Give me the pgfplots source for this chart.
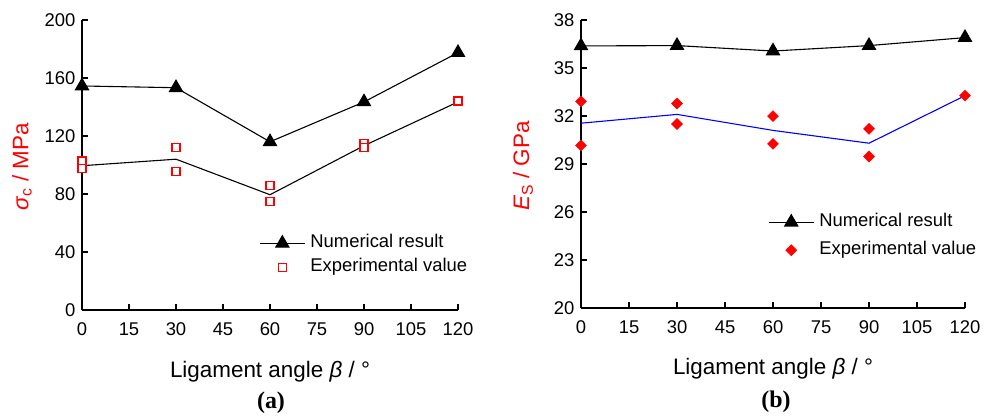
\documentclass[border=0pt]{standalone}
\usepackage{fontspec}
\setmainfont{Liberation Sans}
\newfontfamily\capfont{Liberation Serif}
\usepackage{pgfplots}
\pgfplotsset{compat=1.18}

\definecolor{expred}{RGB}{255,0,0}
\definecolor{fitblue}{RGB}{0,0,255}

\pgfplotsset{
  longlegend/.style={legend image code/.code={\draw[mark repeat=2,mark phase=2,##1] plot coordinates {(0bp,0bp) (22.5bp,0bp) (45bp,0bp)};}},
  panel/.style={
    scale only axis,
    axis lines=left,
    axis line style={-, line width=1.1bp},
    tick align=inside,
    major tick length=6bp,
    tick style={line width=1.1bp, black},
    xmin=0, xmax=120,
    xtick={0,15,...,120},
    clip=false,
    /pgf/number format/assume math mode=true,
    tick label style={font=\fontsize{18.5}{20}\selectfont},
    xticklabel style={yshift=-9bp},
    yticklabel style={xshift=-3bp},
    label style={font=\fontsize{22.5}{26}\selectfont},
    ylabel style={text=expred},
    xlabel={Ligament angle \textit{β} / °},
    legend cell align=left,
    legend style={draw=none, fill=none, inner sep=0bp,
      font=\fontsize{18.5}{20}\selectfont,
      nodes={inner sep=0bp, text height=13bp, text depth=4bp},
      /tikz/every odd column/.append style={column sep=5bp}},
  },
}

\begin{document}
\begin{tikzpicture}
\useasboundingbox (0,0) rectangle (997bp,416bp);

% (a) compressive strength
\begin{axis}[panel,
  at={(82bp,106bp)}, anchor=south west,
  width=376bp, height=290bp,
  ymin=0, ymax=200, ytick={0,40,...,200},
  xlabel style={at={(rel axis cs:0.5,0)}, anchor=center, yshift=-62bp},
  ylabel={\textit{σ}\textsubscript{c} / MPa},
  ylabel style={at={(rel axis cs:0,0.5)}, anchor=center, yshift=60bp, xshift=-2bp},
  legend style={at={(0.471,0.260)}, anchor=north west, row sep=7bp},
]
\addplot[black, line width=1.1bp, mark=triangle*, mark size=7.5bp, longlegend]
  coordinates {(0,154.5) (30,153.3) (60,116) (90,143.5) (120,177.5)};
\addlegendentry{Numerical result}
\addplot[only marks, mark=square*, draw=expred, fill=white, line width=1.4bp,
  mark size=4bp, longlegend]
  coordinates {(0,102.8) (0,97.7) (30,112.2) (30,95.4) (60,85.7) (60,74.7) (90,115) (90,112) (120,144)};
\addlegendentry{Experimental value}
\addplot[black, line width=1.1bp, forget plot]
  coordinates {(0,99.5) (30,104) (60,79.5) (90,113.3) (120,143.5)};
\end{axis}
\node[font=\capfont\bfseries\fontsize{24}{26}\selectfont] at (271bp,13bp) {(a)};

% (b) elastic modulus
\begin{axis}[panel,
  at={(581bp,108bp)}, anchor=south west,
  width=384bp, height=288bp,
  ymin=20, ymax=38, ytick={20,23,...,38},
  xlabel style={at={(rel axis cs:0.5,0)}, anchor=center, yshift=-61bp},
  ylabel={\textit{E}\textsubscript{S} / GPa},
  ylabel style={at={(rel axis cs:0,0.5)}, anchor=center, yshift=58bp, xshift=-2bp},
  legend style={at={(0.487,0.328)}, anchor=north west, row sep=11bp},
]
\addplot[black, line width=1.1bp, mark=triangle*, mark size=7.5bp, longlegend]
  coordinates {(0,36.38) (30,36.4) (60,36.06) (90,36.4) (120,36.9)};
\addlegendentry{Numerical result}
\addplot[only marks, color=expred, mark=square*, mark size=3.9bp, mark options={rotate=45, draw=expred, fill=expred}, longlegend]
  coordinates {(0,32.91) (0,30.16) (30,32.78) (30,31.5) (60,31.99) (60,30.26) (90,31.2) (90,29.47) (120,33.27)};
\addlegendentry{Experimental value}
\addplot[fitblue, line width=1.1bp, forget plot]
  coordinates {(0,31.55) (30,32.1) (60,31.1) (90,30.3) (120,33.27)};
\end{axis}
\node[font=\capfont\bfseries\fontsize{24}{26}\selectfont] at (776bp,14bp) {(b)};
\end{tikzpicture}
\end{document}
